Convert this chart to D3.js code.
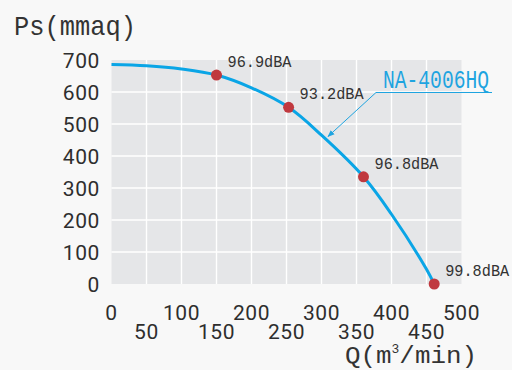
<!DOCTYPE html>
<html><head><meta charset="utf-8">
<script src="https://cdn.jsdelivr.net/npm/d3@7"></script>
<style>
html,body{margin:0;padding:0;background:#f8f8f8;}
svg{display:block;}
</style></head>
<body>
<script>
// Data
const curveQ  = [0, 50, 100, 150, 200, 253, 300, 360, 400, 450, 461];
const curvePs = [686, 682, 672, 653, 613, 552, 465, 335, 218, 46, 0];
const pointQ  = [150, 253, 360, 461];
const pointPs = [653, 552, 335, 0];
const pointLabels = ["96.9dBA", "93.2dBA", "96.8dBA", "99.8dBA"];
const yTicks = [0, 100, 200, 300, 400, 500, 600, 700];
const xTicksTop = [0, 100, 200, 300, 400, 500];
const xTicksBottom = [50, 150, 250, 350, 450];
const seriesName = "NA-4006HQ";
const yTitle = "Ps(mmaq)";

const W = 512, H = 370;
const svg = d3.select("body").append("svg").attr("width", W).attr("height", H);
svg.append("rect").attr("width", W).attr("height", H).attr("fill", "#f8f8f8");

const x = d3.scaleLinear().domain([0, 500]).range([111.5, 461.5]);
const y = d3.scaleLinear().domain([0, 700]).range([284, 60]);

// plot background
svg.append("rect")
  .attr("x", x(0)).attr("y", y(700))
  .attr("width", x(500) - x(0)).attr("height", y(0) - y(700))
  .attr("fill", "#e5e6e8");

// gridlines
const gridX = d3.range(50, 500, 50);
svg.append("g").selectAll("line").data(gridX).join("line")
  .attr("x1", d => x(d)).attr("x2", d => x(d))
  .attr("y1", y(700)).attr("y2", y(0))
  .attr("stroke", "#ffffff").attr("stroke-width", 1.4);
svg.append("g").selectAll("line").data(yTicks.filter(d => d > 0 && d < 700)).join("line")
  .attr("x1", x(0)).attr("x2", x(500))
  .attr("y1", d => y(d)).attr("y2", d => y(d))
  .attr("stroke", "#ffffff").attr("stroke-width", 1.4);

// y axis labels
const tickFont = "Roboto, 'Noto Sans', sans-serif";
svg.append("g").selectAll("text").data(yTicks).join("text")
  .attr("x", 100).attr("y", d => y(d)).attr("dy", "0.36em")
  .attr("text-anchor", "end")
  .attr("font-family", tickFont).attr("font-size", 21)
  .attr("letter-spacing", 0.6)
  .attr("fill", "#2e2e2e")
  .text(d => d);

// x axis labels (staggered)
svg.append("g").selectAll("text").data(xTicksTop).join("text")
  .attr("x", d => x(d)).attr("y", 312).attr("dy", "0.36em")
  .attr("text-anchor", "middle")
  .attr("font-family", tickFont).attr("font-size", 21)
  .attr("letter-spacing", 0.6)
  .attr("fill", "#2e2e2e")
  .text(d => d);
svg.append("g").selectAll("text").data(xTicksBottom).join("text")
  .attr("x", d => x(d)).attr("y", 331).attr("dy", "0.36em")
  .attr("text-anchor", "middle")
  .attr("font-family", tickFont).attr("font-size", 21)
  .attr("letter-spacing", 0.6)
  .attr("fill", "#2e2e2e")
  .text(d => d);

// titles
const condFont = "'Liberation Mono', 'DejaVu Sans Mono', monospace";
svg.append("text")
  .attr("x", 14).attr("y", 35)
  .attr("font-family", condFont).attr("font-size", 28)
  .attr("textLength", 122).attr("lengthAdjust", "spacingAndGlyphs")
  .attr("fill", "#333")
  .text(yTitle);

const xt = svg.append("text")
  .attr("x", 345).attr("y", 363)
  .attr("font-family", condFont).attr("font-size", 24)
  .attr("textLength", 132).attr("lengthAdjust", "spacingAndGlyphs")
  .attr("fill", "#333");
xt.append("tspan").text("Q(m");
xt.append("tspan").attr("font-size", 12).attr("dy", -10).text("3");
xt.append("tspan").attr("dy", 10).text("/min)");

// curve
const line = d3.line()
  .x((d, i) => x(curveQ[i]))
  .y((d, i) => y(curvePs[i]))
  .curve(d3.curveCatmullRom.alpha(0.5));
svg.append("path")
  .attr("d", line(curveQ))
  .attr("fill", "none")
  .attr("stroke", "#0aa5e6")
  .attr("stroke-width", 3);

// markers
svg.append("g").selectAll("circle").data(pointQ).join("circle")
  .attr("cx", d => x(d)).attr("cy", (d, i) => y(pointPs[i]))
  .attr("r", 5.5)
  .attr("fill", "#c0393f");

svg.append("g").selectAll("text").data(pointLabels).join("text")
  .attr("x", (d, i) => x(pointQ[i]) + 11)
  .attr("y", (d, i) => y(pointPs[i]) - 8)
  .attr("font-family", condFont).attr("font-size", 16)
  .attr("textLength", 64).attr("lengthAdjust", "spacingAndGlyphs")
  .attr("fill", "#333")
  .text(d => d);

// legend callout
const legColor = "#1ea4e0";
svg.append("text")
  .attr("x", 383).attr("y", 87.5)
  .attr("font-family", condFont).attr("font-size", 25)
  .attr("textLength", 106).attr("lengthAdjust", "spacingAndGlyphs")
  .attr("fill", legColor)
  .text(seriesName);
svg.append("line")
  .attr("x1", 376).attr("y1", 92.5).attr("x2", 492).attr("y2", 92.5)
  .attr("stroke", legColor).attr("stroke-width", 1);
const defs = svg.append("defs");
defs.append("marker").attr("id", "arr")
  .attr("viewBox", "0 0 10 10").attr("refX", 9).attr("refY", 5)
  .attr("markerWidth", 7).attr("markerHeight", 7)
  .attr("orient", "auto")
  .append("path").attr("d", "M0,1 L10,5 L0,9 Z").attr("fill", legColor);
svg.append("line")
  .attr("x1", 376).attr("y1", 92.5).attr("x2", 328).attr("y2", 136.5)
  .attr("stroke", legColor).attr("stroke-width", 1)
  .attr("marker-end", "url(#arr)");
</script>
</body></html>
